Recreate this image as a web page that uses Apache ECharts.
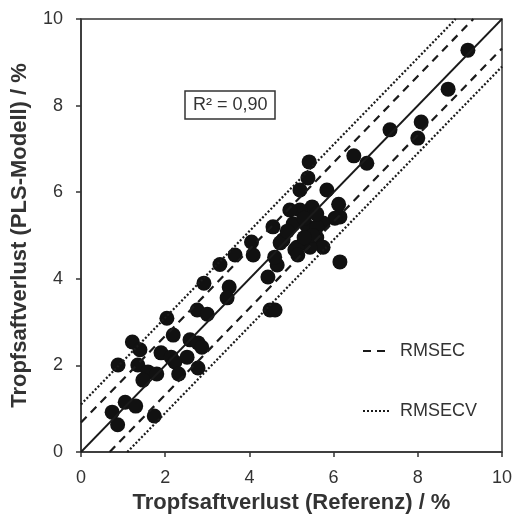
<!DOCTYPE html>
<html>
<head>
<meta charset="utf-8">
<script src="https://cdn.jsdelivr.net/npm/echarts@6/dist/echarts.min.js"></script>
<style>
  html, body { margin: 0; padding: 0; background: #fff; }
  #chart { width: 514px; height: 515px; }
</style>
</head>
<body>
<div id="chart"></div>
<script>
// Referenzwerte (x) und PLS-Modell (y)
const refValues = [
  9.19, 8.72, 8.08, 8.00, 7.34, 6.79, 6.48, 5.42, 5.39, 5.20,
  5.84, 6.12, 6.15, 6.03, 5.49, 5.20, 4.96, 5.04, 5.37, 5.75,
  4.56, 5.60, 4.80, 5.60, 5.08, 5.75, 5.44, 5.13, 4.73, 4.05,
  4.09, 4.66, 5.15, 6.15, 4.44, 4.49, 4.61, 3.66, 3.30, 2.92,
  3.52, 3.47, 2.76, 3.00, 2.04, 2.19, 2.59, 2.78, 2.87, 1.22,
  1.40, 1.90, 2.14, 2.52, 2.23, 0.88, 1.35, 1.59, 1.80, 1.47,
  2.32, 2.78, 1.05, 1.30, 0.74, 0.87, 1.74, 5.30, 5.50, 4.90,
  5.60, 4.60, 5.30
]
const plsValues = [
  9.28, 8.38, 7.62, 7.25, 7.44, 6.67, 6.84, 6.70, 6.33, 6.05,
  6.05, 5.72, 5.43, 5.40, 5.66, 5.59, 5.59, 5.27, 5.22, 5.29,
  5.20, 5.20, 4.90, 4.95, 4.67, 4.73, 4.73, 4.73, 4.83, 4.85,
  4.55, 4.32, 4.55, 4.39, 4.04, 3.28, 3.28, 4.55, 4.33, 3.90,
  3.81, 3.56, 3.28, 3.18, 3.09, 2.70, 2.59, 2.52, 2.42, 2.54,
  2.36, 2.29, 2.19, 2.19, 2.08, 2.01, 2.01, 1.85, 1.80, 1.66,
  1.80, 1.94, 1.15, 1.06, 0.92, 0.63, 0.83, 5.40, 5.00, 5.10,
  5.50, 4.50, 4.95
]
const axisTicks = [0, 2, 4, 6, 8, 10]
const rmsec = 0.68
const rmsecv = 1.1
const r2Text = 'R² = 0,90'

const points = refValues.map((x, i) => [x, plsValues[i]])
const axisMax = axisTicks[axisTicks.length - 1]

// Parallele Linien zur Winkelhalbierenden
const upperLine = (d) => [[0, d], [axisMax - d, axisMax]]
const lowerLine = (d) => [[d, 0], [axisMax, axisMax - d]]

const font = 'Liberation Sans, Arial, sans-serif'
const axisColor = '#333'
const dashType = [8, 6]
const dotType = [2, 2]

const chart = echarts.init(document.getElementById('chart'))

const axisBase = {
  type: 'value',
  min: 0,
  max: axisMax,
  interval: 2,
  axisLine: { show: true, lineStyle: { color: axisColor, width: 1.5 } },
  axisTick: { show: true, inside: false, length: 5, lineStyle: { color: axisColor, width: 1.5 } },
  splitLine: { show: false },
  axisLabel: { color: '#333', fontSize: 18, fontFamily: font },
  nameLocation: 'middle',
  nameTextStyle: { color: '#333', fontSize: 22, fontWeight: 'bold', fontFamily: font }
}

const option = {
  animation: false,
  backgroundColor: '#fff',
  grid: {
    left: 81,
    right: 12,
    top: 19,
    bottom: 63,
    outerBoundsMode: 'none',
    show: true,
    borderColor: axisColor,
    borderWidth: 1.5
  },
  title: {
    text: r2Text,
    left: 185,
    top: 91,
    padding: [5, 8],
    borderColor: axisColor,
    borderWidth: 1.5,
    textStyle: { color: '#333', fontSize: 18, fontWeight: 'normal', fontFamily: font }
  },
  legend: {
    data: ['RMSEC', 'RMSECV'],
    orient: 'vertical',
    left: 357,
    top: 337,
    itemGap: 42,
    itemWidth: 28,
    itemHeight: 10,
    itemStyle: { opacity: 0 },
    textStyle: { color: '#333', fontSize: 18, fontFamily: font, padding: [0, 0, 0, 4] },
    selectedMode: false
  },
  xAxis: Object.assign({}, axisBase, {
    name: 'Tropfsaftverlust (Referenz) / %',
    nameGap: 40,
    axisLabel: Object.assign({}, axisBase.axisLabel, { margin: 17 })
  }),
  yAxis: Object.assign({}, axisBase, {
    name: 'Tropfsaftverlust (PLS-Modell) / %',
    nameGap: 50,
    axisLabel: Object.assign({}, axisBase.axisLabel, { margin: 18 })
  }),
  series: [
    {
      name: 'Ideal',
      type: 'line',
      data: [[0, 0], [axisMax, axisMax]],
      symbol: 'none',
      lineStyle: { color: '#1a1a1a', width: 1.8 },
      silent: true
    },
    {
      name: 'RMSEC',
      type: 'line',
      data: upperLine(rmsec),
      symbol: 'none',
      lineStyle: { color: '#1a1a1a', width: 2.2, type: dashType },
      itemStyle: { color: '#1a1a1a' },
      silent: true
    },
    {
      name: 'RMSEC',
      type: 'line',
      data: lowerLine(rmsec),
      symbol: 'none',
      lineStyle: { color: '#1a1a1a', width: 2.2, type: dashType },
      itemStyle: { color: '#1a1a1a' },
      silent: true
    },
    {
      name: 'RMSECV',
      type: 'line',
      data: upperLine(rmsecv),
      symbol: 'none',
      lineStyle: { color: '#1a1a1a', width: 2.2, type: dotType },
      itemStyle: { color: '#1a1a1a' },
      silent: true
    },
    {
      name: 'RMSECV',
      type: 'line',
      data: lowerLine(rmsecv),
      symbol: 'none',
      lineStyle: { color: '#1a1a1a', width: 2.2, type: dotType },
      itemStyle: { color: '#1a1a1a' },
      silent: true
    },
    {
      name: 'Proben',
      type: 'scatter',
      data: points,
      symbolSize: 15,
      itemStyle: { color: '#111', opacity: 1 }
    }
  ]
}

chart.setOption(option)
</script>
</body>
</html>
